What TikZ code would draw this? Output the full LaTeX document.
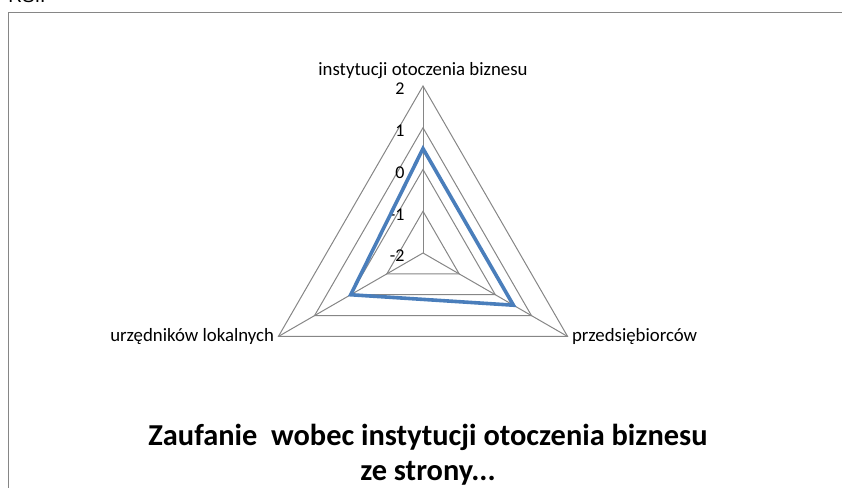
\documentclass[tikz,border=0pt]{standalone}
\usepackage{fontspec}
\setmainfont{Carlito}
\newfontfamily\rsifont{Liberation Sans}
\definecolor{chartgray}{HTML}{868686}
\definecolor{chartblue}{HTML}{4A7EBB}
\begin{document}
\begin{tikzpicture}[x=0.5pt,y=0.5pt]
  \tikzset{
    gridline/.style={draw=chartgray,line width=0.5pt},
    series/.style={draw=chartblue,line width=1.8pt,line join=miter},
    axislabel/.style={font=\fontsize{9.4}{11}\selectfont,inner sep=0pt},
    ticklabel/.style={font=\fontsize{9}{11}\selectfont,inner sep=0pt,anchor=east},
    charttitle/.style={font=\fontsize{15.2}{18}\selectfont\bfseries,inner sep=0pt,anchor=base},
  }
  \useasboundingbox (0,0) rectangle (842,488);
  \draw[chartgray,line width=0.6pt] (8.5,-20) rectangle (870,475.5);
  \node[font=\rsifont\fontsize{9.5}{11}\selectfont,anchor=base west,inner sep=0pt] (rsi) at (8,485) {RSI.};
  \begin{scope}[shift={(423,235)}]
    \coordinate (c) at (0,0);
    \coordinate (ax1) at (90:167);
    \coordinate (ax2) at (210:167);
    \coordinate (ax3) at (330:167);
    % grid
    \foreach \v in {1,2,3,4}
      \draw[gridline] (90:41.75*\v) -- (210:41.75*\v) -- (330:41.75*\v) -- cycle;
    \draw[gridline] (c) -- (ax1);
    \draw[gridline] (c) -- (ax2);
    \draw[gridline] (c) -- (ax3);
    \foreach \v [count=\i from 0] in {-2,-1,0,1,2}
      \node[ticklabel] (tick\i) at (-18,{41.75*\i-3}) {\v};
    % series
    \coordinate (d1) at (90:104.4);
    \coordinate (d2) at (210:83.5);
    \coordinate (d3) at (330:104.4);
    \draw[series] (d1) -- (d2) -- (d3) -- cycle;
    % axis names
    \node[axislabel,anchor=base] (lbl1) at (0,177) {instytucji otoczenia biznesu};
    \node[axislabel,anchor=east] (lbl2) at ([xshift=-2]ax2) {urzędników lokalnych};
    \node[axislabel,anchor=west] (lbl3) at ([xshift=2]ax3) {przedsiębiorców};
  \end{scope}
  \node[charttitle] (title1) at (428,42) {Zaufanie\ \ wobec instytucji otoczenia biznesu};
  \node[charttitle] (title2) at (428,7) {ze strony...};
\end{tikzpicture}
\end{document}
